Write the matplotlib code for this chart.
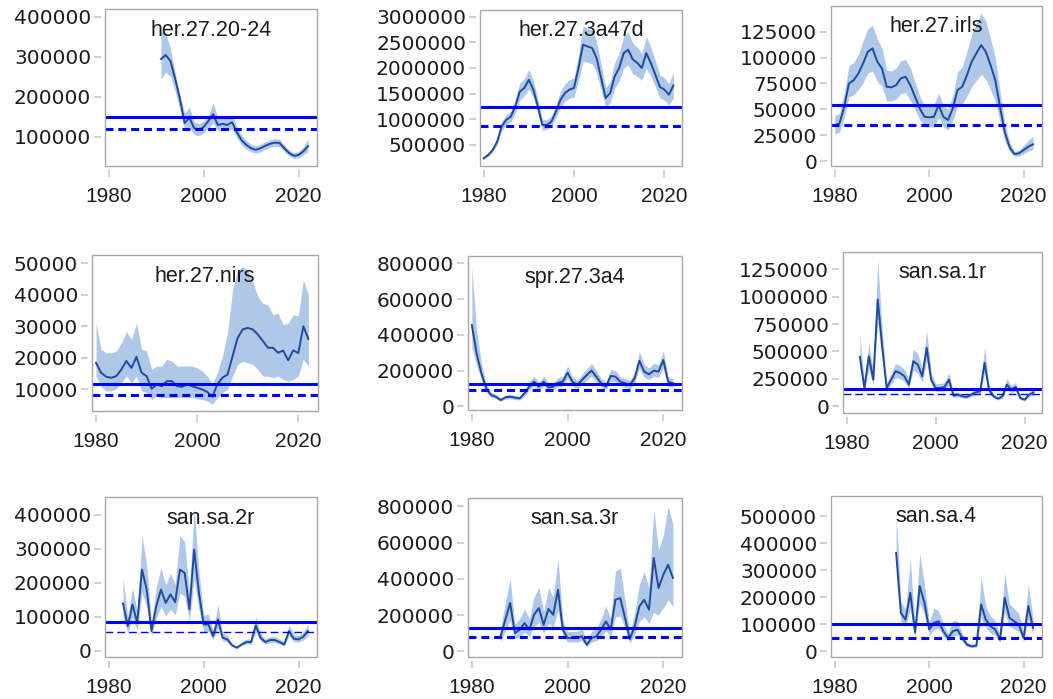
import numpy as np
import matplotlib
matplotlib.use("Agg")
import matplotlib.pyplot as plt
from matplotlib.ticker import StrMethodFormatter
from matplotlib.patches import Rectangle

# ---- data ----
titles = ["her.27.20-24", "her.27.3a47d", "her.27.irls",
          "her.27.nirs", "spr.27.3a4", "san.sa.1r",
          "san.sa.2r", "san.sa.3r", "san.sa.4"]
first_year = [1991, 1980, 1980, 1980, 1980, 1983, 1983, 1986, 1993]

med1 = [295000, 305000, 290000, 245000, 195000, 135000, 148000, 122000, 118000, 125000, 140000, 157000, 130000, 133000, 130000, 137000, 112000, 92000, 80000, 72000, 68000, 72000, 78000, 83000, 86000, 85000, 72000, 60000, 53000, 55000, 64000, 77000]
lo1 = [245000, 262000, 252000, 215000, 168000, 118000, 125000, 106000, 103000, 110000, 122000, 135000, 115000, 118000, 116000, 120000, 98000, 80000, 70000, 63000, 60000, 63000, 69000, 74000, 77000, 76000, 64000, 53000, 46000, 48000, 55000, 64000]
hi1 = [365000, 360000, 320000, 260000, 205000, 160000, 175000, 138000, 133000, 140000, 155000, 185000, 148000, 150000, 146000, 155000, 126000, 104000, 91000, 82000, 77000, 82000, 88000, 93000, 96000, 95000, 81000, 68000, 61000, 64000, 75000, 97000]

med2 = [240000, 305000, 400000, 565000, 860000, 990000, 1050000, 1250000, 1540000, 1610000, 1770000, 1580000, 1250000, 890000, 890000, 955000, 1150000, 1380000, 1510000, 1580000, 1610000, 2000000, 2455000, 2420000, 2390000, 2195000, 1805000, 1415000, 1510000, 1835000, 2000000, 2290000, 2355000, 2165000, 2100000, 2000000, 2290000, 2100000, 1870000, 1630000, 1580000, 1480000, 1660000]
lo2 = [215000, 275000, 360000, 505000, 780000, 900000, 950000, 1120000, 1380000, 1450000, 1590000, 1420000, 1120000, 790000, 800000, 860000, 1030000, 1230000, 1350000, 1410000, 1430000, 1760000, 2130000, 2110000, 2080000, 1910000, 1570000, 1240000, 1320000, 1600000, 1750000, 2000000, 2060000, 1890000, 1840000, 1760000, 2000000, 1840000, 1630000, 1420000, 1370000, 1280000, 1420000]
hi2 = [265000, 340000, 445000, 630000, 950000, 1090000, 1160000, 1390000, 1710000, 1790000, 1970000, 1760000, 1390000, 1000000, 990000, 1060000, 1280000, 1540000, 1690000, 1770000, 1810000, 2260000, 2820000, 2770000, 2740000, 2520000, 2070000, 1610000, 1730000, 2100000, 2290000, 2620000, 2700000, 2480000, 2400000, 2280000, 2620000, 2400000, 2140000, 1870000, 1810000, 1700000, 1920000]

med3 = [34800, 36400, 52500, 75000, 78000, 84700, 94300, 105600, 108800, 96000, 89500, 71800, 71200, 73400, 79900, 81500, 73400, 62100, 50900, 42800, 42200, 42800, 54100, 42800, 39600, 50900, 68600, 71800, 83000, 96000, 104000, 112000, 105600, 92700, 78200, 52500, 28300, 13800, 6800, 7400, 10600, 13800, 16100]
lo3 = [26000, 28000, 42000, 62000, 64000, 69000, 76000, 85000, 87000, 77000, 72000, 58000, 58000, 60000, 65000, 66000, 59000, 50000, 40000, 33000, 33000, 33000, 42000, 33000, 30000, 39000, 53000, 55000, 63000, 72000, 78000, 84000, 79000, 69000, 58000, 38000, 20000, 9500, 4500, 5000, 7200, 9500, 11000]
hi3 = [44000, 46000, 66000, 92000, 95000, 103000, 116000, 128000, 131000, 118000, 109000, 88000, 87000, 90000, 97000, 98000, 90000, 76000, 63000, 53000, 53000, 54000, 66000, 53000, 50000, 63000, 86000, 91000, 106000, 122000, 133000, 143000, 135000, 118000, 100000, 68000, 37000, 19000, 9500, 10500, 15000, 20000, 24000]

med4 = [18400, 15300, 14000, 13700, 14200, 16300, 19000, 16800, 20300, 15300, 14200, 10200, 11600, 11000, 12600, 12600, 11000, 10800, 11600, 11000, 10500, 10000, 9200, 7700, 11600, 13700, 14700, 20500, 26300, 29000, 29500, 29000, 27400, 25300, 23200, 23200, 21600, 22300, 19200, 22400, 21500, 30000, 26000]
lo4 = [14200, 11000, 9500, 9500, 10200, 12100, 14200, 12100, 14200, 9500, 9000, 6800, 7900, 7400, 7400, 7400, 7400, 7400, 7400, 7400, 7000, 6800, 6300, 5300, 7400, 9000, 10000, 14200, 17900, 18900, 18400, 17900, 16300, 14200, 14200, 13700, 14200, 13200, 12600, 13200, 14200, 19500, 17400]
hi4 = [31000, 22700, 21600, 21600, 22000, 24700, 28400, 25800, 31000, 22700, 22200, 16300, 17400, 17400, 19500, 19000, 17400, 17400, 17400, 17400, 16800, 15800, 14200, 11600, 15300, 20500, 27900, 41500, 47800, 48900, 47800, 44000, 39500, 37300, 36800, 33700, 34200, 30500, 31000, 33700, 33200, 44700, 40000]

med5 = [455000, 296000, 185000, 100600, 63400, 54000, 35400, 50300, 54000, 48500, 44700, 72700, 110000, 138000, 110000, 138000, 106000, 110000, 132000, 138000, 188000, 138000, 119000, 147000, 175000, 200000, 166000, 129000, 110000, 170000, 166000, 138000, 129000, 119000, 157000, 255000, 194000, 179000, 200000, 194000, 259000, 138000, 129000]
lo5 = [330000, 230000, 150000, 80000, 50000, 43000, 28000, 40000, 43000, 38000, 35000, 58000, 90000, 115000, 90000, 115000, 88000, 92000, 110000, 115000, 158000, 115000, 99000, 123000, 147000, 168000, 138000, 107000, 91000, 142000, 138000, 115000, 107000, 98000, 130000, 215000, 162000, 150000, 168000, 162000, 218000, 114000, 106000]
hi5 = [780000, 420000, 240000, 125000, 80000, 67000, 44000, 63000, 67000, 61000, 56000, 90000, 136000, 168000, 135000, 168000, 130000, 134000, 160000, 168000, 225000, 167000, 144000, 178000, 210000, 240000, 200000, 156000, 133000, 205000, 200000, 166000, 156000, 144000, 190000, 305000, 233000, 215000, 240000, 233000, 310000, 166000, 155000]

med6 = [449000, 165000, 455000, 241000, 975000, 547000, 165000, 241000, 318000, 302000, 272000, 196000, 410000, 379000, 272000, 532000, 241000, 165000, 165000, 174000, 241000, 95000, 104000, 89000, 83000, 104000, 125000, 134000, 394000, 150000, 89000, 67000, 89000, 196000, 150000, 174000, 73000, 58000, 104000, 125000]
lo6 = [340000, 130000, 340000, 190000, 760000, 430000, 135000, 195000, 260000, 250000, 225000, 160000, 330000, 300000, 215000, 420000, 195000, 135000, 135000, 140000, 190000, 78000, 85000, 72000, 68000, 85000, 102000, 108000, 300000, 120000, 72000, 55000, 72000, 155000, 120000, 140000, 58000, 47000, 84000, 100000]
hi6 = [640000, 215000, 580000, 310000, 1330000, 700000, 210000, 300000, 390000, 370000, 335000, 245000, 520000, 480000, 345000, 690000, 300000, 205000, 205000, 215000, 305000, 118000, 128000, 110000, 102000, 128000, 155000, 168000, 540000, 188000, 110000, 83000, 110000, 250000, 188000, 215000, 90000, 72000, 128000, 155000]

med7 = [139000, 72500, 136000, 82300, 239000, 180000, 57800, 131000, 180000, 141000, 166000, 143000, 239000, 229000, 122000, 298000, 171000, 77400, 77400, 43100, 92100, 38200, 33300, 15700, 8800, 18600, 25500, 25500, 74500, 38200, 25500, 31400, 31400, 25500, 18600, 57800, 35300, 33300, 41200, 57800]
lo7 = [100000, 52000, 98000, 60000, 170000, 130000, 42000, 95000, 130000, 103000, 122000, 105000, 170000, 160000, 88000, 210000, 122000, 57000, 57000, 32000, 68000, 29000, 25000, 12000, 6500, 14000, 19000, 19000, 56000, 29000, 19000, 24000, 24000, 19000, 14000, 44000, 27000, 25000, 31000, 44000]
hi7 = [215000, 100000, 185000, 115000, 340000, 250000, 80000, 185000, 245000, 195000, 228000, 195000, 340000, 320000, 170000, 420000, 235000, 105000, 107000, 60000, 135000, 52000, 45000, 21000, 12000, 25000, 34000, 34000, 100000, 51000, 34000, 42000, 42000, 34000, 25000, 77000, 47000, 45000, 55000, 77000]

med8 = [82800, 175000, 267000, 101000, 120000, 156000, 120000, 202000, 239000, 147000, 234000, 202000, 340000, 120000, 73600, 73600, 73600, 82800, 36800, 73600, 82800, 120000, 166000, 120000, 285000, 294000, 184000, 68000, 138000, 248000, 285000, 230000, 515000, 349000, 423000, 478000, 405000]
lo8 = [55000, 115000, 170000, 70000, 82000, 105000, 82000, 135000, 160000, 100000, 155000, 135000, 225000, 85000, 52000, 52000, 52000, 58000, 26000, 52000, 58000, 82000, 112000, 82000, 190000, 195000, 125000, 47000, 92000, 165000, 190000, 155000, 215000, 200000, 240000, 285000, 248000]
hi8 = [125000, 270000, 400000, 150000, 180000, 235000, 180000, 300000, 355000, 220000, 350000, 300000, 510000, 175000, 110000, 110000, 110000, 125000, 56000, 110000, 125000, 180000, 250000, 180000, 440000, 460000, 280000, 100000, 210000, 370000, 440000, 350000, 780000, 560000, 640000, 800000, 700000]

med9 = [364000, 142000, 117000, 216000, 70000, 241000, 179000, 80300, 105000, 111000, 74100, 49400, 74100, 80300, 49400, 24700, 18500, 21000, 173000, 117000, 92600, 80300, 43200, 198000, 124000, 111000, 98800, 49400, 167000, 86500]
lo9 = [320000, 110000, 90000, 160000, 50000, 180000, 135000, 60000, 80000, 85000, 56000, 37000, 56000, 60000, 37000, 18000, 13500, 15500, 125000, 87000, 68000, 59000, 32000, 145000, 92000, 82000, 73000, 36000, 120000, 63000]
hi9 = [520000, 185000, 155000, 340000, 95000, 360000, 250000, 108000, 160000, 150000, 100000, 67000, 115000, 110000, 67000, 34000, 26000, 29000, 275000, 165000, 130000, 112000, 60000, 290000, 175000, 157000, 140000, 69000, 245000, 122000]

ref_solid = [150000, 1232000, 54000, 11800, 123000, 156000, 84300, 129000, 100000]
ref_dash = [120000, 874000, 34500, 8200, 91300, 113000, 55900, 79000, 49400]

y_ticks = [[100000, 200000, 300000, 400000],
           [500000, 1000000, 1500000, 2000000, 2500000, 3000000],
           [0, 25000, 50000, 75000, 100000, 125000],
           [10000, 20000, 30000, 40000, 50000],
           [0, 200000, 400000, 600000, 800000],
           [0, 250000, 500000, 750000, 1000000, 1250000],
           [0, 100000, 200000, 300000, 400000],
           [0, 200000, 400000, 600000, 800000],
           [0, 100000, 200000, 300000, 400000, 500000]]
x_ticks = [1980, 2000, 2020]

meds = [med1, med2, med3, med4, med5, med6, med7, med8, med9]
los = [lo1, lo2, lo3, lo4, lo5, lo6, lo7, lo8, lo9]
his = [hi1, hi2, hi3, hi4, hi5, hi6, hi7, hi8, hi9]

# ---- layout (pixel boxes: left, top, right, bottom) ----
W, H = 1053, 699
boxes = [(105, 9, 317, 166), (480, 10, 682, 166), (831, 6, 1042, 166),
         (92, 255, 318, 411), (468, 256, 682, 410), (843, 252, 1042, 413),
         (105, 497, 317, 657), (468, 498, 682, 657), (831, 496, 1042, 657)]
ylims = [(27500, 420000), (90000, 3130000), (-4800, 149800),
         (3150, 52600), (-20500, 841000), (-64000, 1409000),
         (-18600, 453000), (-31000, 846000), (-21000, 574000)]
thin_dash = [False, False, False, False, False, True, True, False, False]

line_col = "#1f4a9e"
band_col = "#afc8e7"
ref_col = "#0000ff"
grey = "#a8a8a8"
txt = "#1c1c1c"

fig = plt.figure(figsize=(W / 100, H / 100), dpi=100)

for i in range(9):
    l, t, r, b = boxes[i]
    ax = fig.add_axes([l / W, 1 - b / H, (r - l) / W, (b - t) / H])
    yrs = np.arange(first_year[i], first_year[i] + len(meds[i]))
    ax.fill_between(yrs, los[i], his[i], color=band_col, lw=0, zorder=1)
    ax.plot(yrs, meds[i], color=line_col, lw=1.4, zorder=2)
    ax.axhline(ref_solid[i], color=ref_col, lw=2.2, zorder=3)
    if thin_dash[i]:
        ax.axhline(ref_dash[i], color=ref_col, lw=1.0, ls=(0, (5.5, 3)), zorder=3)
    else:
        ax.axhline(ref_dash[i], color=ref_col, lw=2.2, ls=(0, (2.6, 1.6)), zorder=3)

    ax.set_xlim(1979.2, 2023.9)
    ax.set_ylim(*ylims[i])
    ax.set_xticks(x_ticks)
    ax.set_yticks(y_ticks[i])
    ax.yaxis.set_major_formatter(StrMethodFormatter("{x:.0f}"))

    for s in ax.spines.values():
        s.set_visible(False)
    ax.spines["left"].set_position(("outward", 3))
    ax.spines["bottom"].set_position(("outward", 3))
    ax.add_patch(Rectangle((0, 0), 1, 1, transform=ax.transAxes, fill=False,
                           ec=grey, lw=1.0, clip_on=False, zorder=5))
    ax.tick_params(axis="both", length=5, width=1.2, color="#c8c8c8")
    ax.tick_params(axis="y", pad=2, labelsize=14.5, labelcolor=txt)
    ax.tick_params(axis="x", pad=7, labelsize=15, labelcolor=txt)
    for lab in ax.get_yticklabels():
        lab.set_family("DejaVu Sans")
    for lab in ax.get_xticklabels():
        lab.set_family("Liberation Sans")

    ax.text(0.5, 1 - 21 / (b - t), titles[i], transform=ax.transAxes,
            ha="center", va="center", fontsize=15.5, family="Liberation Sans",
            color=txt, zorder=6)

fig.savefig("out.png", dpi=100)
